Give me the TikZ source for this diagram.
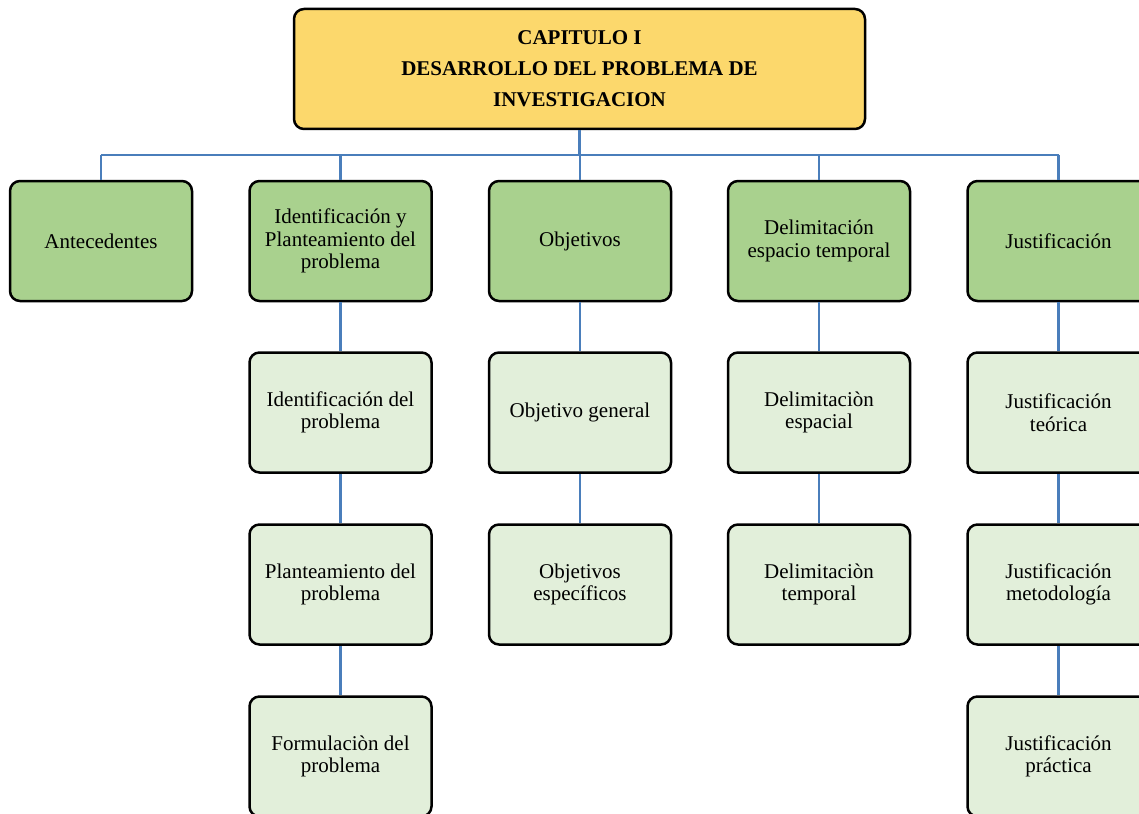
\documentclass[tikz,border=0pt]{standalone}
\usepackage{fontspec}
\setmainfont{Liberation Serif}
\begin{document}
\begin{tikzpicture}[x=1pt,y=-1pt,
  box/.style={draw=black,line width=2.5pt,rounded corners=10pt,
    minimum width=182pt,minimum height=120pt,inner sep=2pt,align=center,
    font=\fontsize{21}{22.5}\selectfont},
  lvlone/.style={box,fill=greenA},
  lvltwo/.style={box,fill=greenB},
  titlebox/.style={box,fill=titleyellow,minimum width=571pt,
    font=\fontsize{21}{31}\selectfont\bfseries},
  conn/.style={draw=linkblue,line width=2.5pt}]
\definecolor{greenA}{HTML}{A9D18E}
\definecolor{greenB}{HTML}{E2EFDA}
\definecolor{titleyellow}{HTML}{FCD86C}
\definecolor{linkblue}{HTML}{4A7EBB}
\useasboundingbox (0,0) rectangle (1139,813);
\clip (0,0) rectangle (1139,813);

% chapter heading
\node[titlebox] (top) at (579.5,69) {CAPITULO I\\DESARROLLO DEL PROBLEMA DE\\INVESTIGACION};

% first level
\node[lvlone] (ant) at (101,241) {Antecedentes};
\node[lvlone] (ide) at (340.5,241) {Identificación y\\Planteamiento del\\problema};
\node[lvlone] (obj) at (580,241) {Objetivos};
\node[lvlone] (del) at (819,241) {Delimitación\\espacio temporal};
\node[lvlone] (jus) at (1058.5,241) {Justificación};

% second column
\node[lvltwo] (ide1) at (340.5,412.5) {Identificación del\\problema};
\node[lvltwo] (ide2) at (340.5,584.5) {Planteamiento del\\problema};
\node[lvltwo] (ide3) at (340.5,756.5) {Formulaciòn del\\problema};

% third column
\node[lvltwo] (obj1) at (580,412.5) {Objetivo general};
\node[lvltwo] (obj2) at (580,584.5) {Objetivos\\específicos};

% fourth column
\node[lvltwo] (del1) at (819,412.5) {Delimitaciòn\\espacial};
\node[lvltwo] (del2) at (819,584.5) {Delimitaciòn\\temporal};

% fifth column
\node[lvltwo] (jus1) at (1058.5,412.5) {Justificación\\teórica};
\node[lvltwo] (jus2) at (1058.5,584.5) {Justificación\\metodología};
\node[lvltwo] (jus3) at (1058.5,756.5) {Justificación\\práctica};

% connectors: horizontal bus under the heading, then vertical links
\coordinate (busL) at (101,155);
\coordinate (busR) at (1058.5,155);
\draw[conn] (busL) -- (busR);
\draw[conn] (top.south) -- (top.south |- busL);
\foreach \n in {ant,ide,obj,del,jus}
  \draw[conn] (\n.north) -- (\n.north |- busL);
\draw[conn] (ide.south) -- (ide1.north);
\draw[conn] (ide1.south) -- (ide2.north);
\draw[conn] (ide2.south) -- (ide3.north);
\draw[conn] (obj.south) -- (obj1.north);
\draw[conn] (obj1.south) -- (obj2.north);
\draw[conn] (del.south) -- (del1.north);
\draw[conn] (del1.south) -- (del2.north);
\draw[conn] (jus.south) -- (jus1.north);
\draw[conn] (jus1.south) -- (jus2.north);
\draw[conn] (jus2.south) -- (jus3.north);
\end{tikzpicture}
\end{document}
